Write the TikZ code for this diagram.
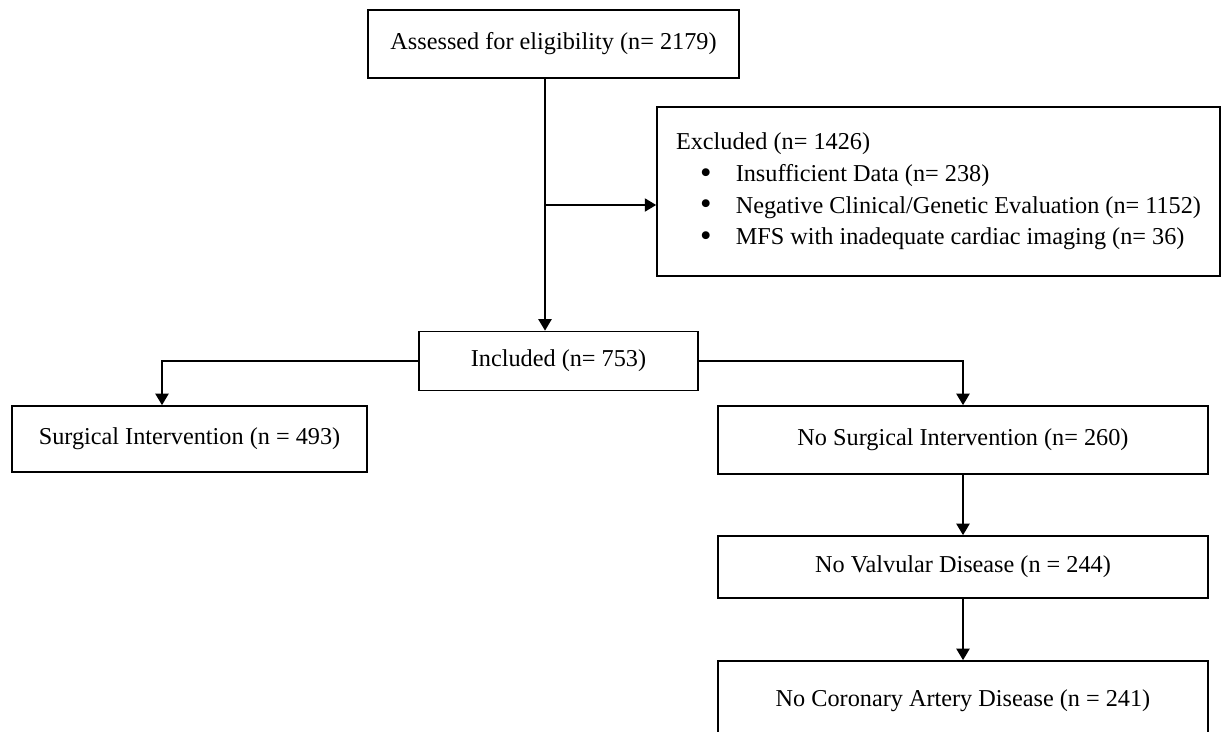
\documentclass[tikz,border=0pt]{standalone}
\usepackage{fontspec}
\usepackage{graphicx}
\setmainfont{Liberation Serif}
\usetikzlibrary{arrows.meta}

\newcommand{\exclitem}[1]{\hspace*{13.7pt}\makebox[20.3pt][l]{\smash{\raisebox{-1pt}{\scalebox{1.35}{\textbullet}}}}#1}

\begin{document}
\begin{tikzpicture}[x=0.02cm,y=-0.02cm,
    box/.style={draw,line width=1pt,inner sep=0pt,
      font=\fontsize{13.8}{16.8}\selectfont},
    arr/.style={line width=0.9pt,-{Triangle[length=6.5pt,width=7.5pt]}}]
        \clip (0,0) rectangle (1224,731);

        \node[box,minimum width=7.42cm,minimum height=1.36cm] (assess) at (553.5,44)
        {Assessed for eligibility (n= 2179)};
        \node[box,minimum width=11.26cm,minimum height=3.38cm,align=left,
          font=\fontsize{13.8}{18}\selectfont] (excl) at (938.5,191.5)
        {Excluded (n= 1426)\\
         \exclitem{Insufficient Data (n= 238)}\\
         \exclitem{Negative Clinical/Genetic Evaluation (n= 1152)}\\
         \exclitem{MFS with inadequate cardiac imaging (n= 36)}};
        \node[box,minimum width=5.58cm,minimum height=1.18cm] (incl) at (558.5,361)
        {Included (n= 753)};
        \node[box,minimum width=7.1cm,minimum height=1.32cm] (surg) at (189.5,439)
        {Surgical Intervention (n = 493)};
        \node[box,minimum width=9.8cm,minimum height=1.36cm] (nosurg) at (963,440)
        {No Surgical Intervention (n= 260)};
        \node[box,minimum width=9.8cm,minimum height=1.24cm] (novalv) at (963,567)
        {No Valvular Disease (n = 244)};
        \node[box,minimum width=9.8cm,minimum height=1.6cm] (nocad) at (963,701)
        {No Coronary Artery Disease (n = 241)};

        \coordinate (trunk) at (545,0);
        \coordinate (split) at (545,205);
        \coordinate (leftdrop) at (162,0);

        \draw[arr] (assess.south -| trunk) -- (incl.north -| trunk);
        \draw[arr] (split) -- (split -| excl.west);
        \draw[arr] (incl.west) -| (surg.north -| leftdrop);
        \draw[arr] (incl.east) -| (nosurg.north);
        \draw[arr] (nosurg) -- (novalv);
        \draw[arr] (novalv) -- (nocad);
      \end{tikzpicture}
\end{document}
